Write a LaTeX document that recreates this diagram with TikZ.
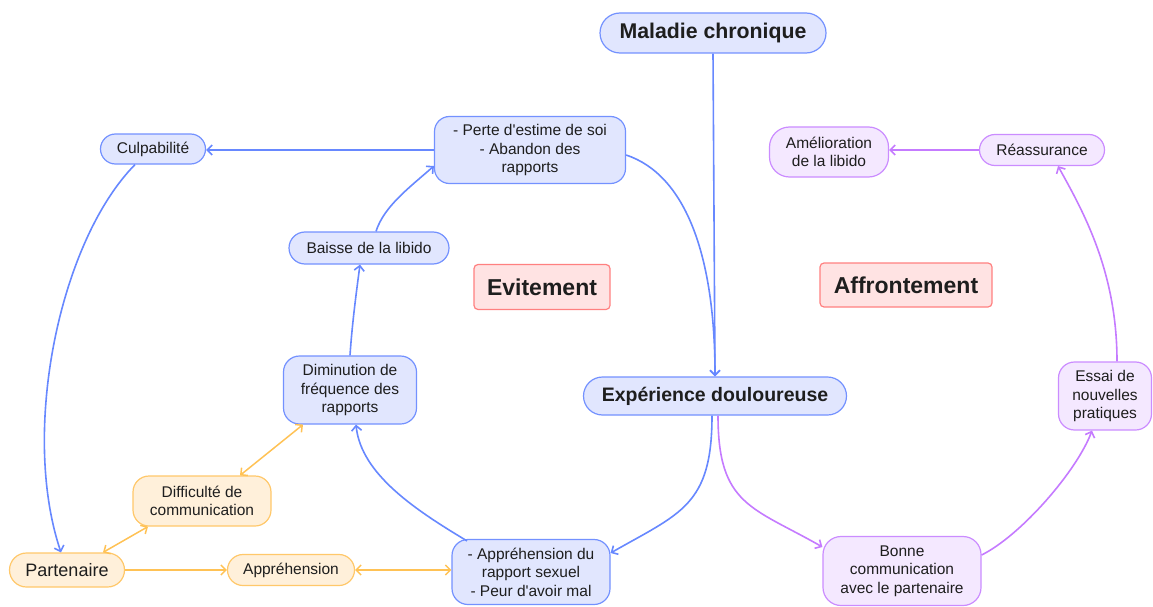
\documentclass[tikz,border=0pt]{standalone}
\usepackage{fontspec}
\setmainfont{Liberation Sans}
\usetikzlibrary{arrows.meta}
\definecolor{txt}{HTML}{1E1E1E}
\definecolor{bfill}{HTML}{E1E6FE}
\definecolor{bline}{HTML}{7391FF}
\definecolor{bedge}{HTML}{6788FF}
\definecolor{ofill}{HTML}{FFF0DA}
\definecolor{oline}{HTML}{FFC86A}
\definecolor{oedge}{HTML}{FFC255}
\definecolor{pfill}{HTML}{F4E8FF}
\definecolor{pline}{HTML}{CB8CFF}
\definecolor{pedge}{HTML}{C57BFF}
\definecolor{rfill}{HTML}{FFE3E3}
\definecolor{rline}{HTML}{FF8080}
\newcommand{\apos}{\textquotesingle}
\begin{document}
\begin{tikzpicture}[x=1pt,y=-1pt,
  base/.style={draw, align=center, inner sep=0pt, text=txt, line width=1.2pt,
    font=\fontsize{15.5}{18.5}\selectfont},
  bnode/.style={base, fill=bfill, draw=bline},
  onode/.style={base, fill=ofill, draw=oline},
  pnode/.style={base, fill=pfill, draw=pline},
  rnode/.style={base, fill=rfill, draw=rline, rounded corners=4pt,
    font=\bfseries\fontsize{23}{26}\selectfont},
  conn/.style={line width=1.6pt, -{Straight Barb[length=5pt,width=10pt]}},
  dconn/.style={line width=1.5pt, {Straight Barb[length=5pt,width=10pt]}-{Straight Barb[length=5pt,width=10pt]}},
]
\useasboundingbox (0,0) rectangle (1153,607);

% nodes
\node[bnode, minimum width=226pt, minimum height=40pt, rounded corners=20pt,
  font=\bfseries\fontsize{21.3}{24}\selectfont] (mal) at (713,33) {Maladie chronique};
\node[bnode, minimum width=191pt, minimum height=67pt, rounded corners=15pt] (perte) at (530,150)
  {- Perte d\apos estime de soi\\- Abandon des\\rapports};
\node[bnode, minimum width=105pt, minimum height=30pt, rounded corners=15pt] (culp) at (153,149) {Culpabilité};
\node[bnode, minimum width=160pt, minimum height=32pt, rounded corners=16pt] (baisse) at (369,248) {Baisse de la libido};
\node[rnode, minimum width=136pt, minimum height=45pt] (evit) at (542,287) {Evitement};
\node[bnode, minimum width=133pt, minimum height=68pt, rounded corners=16pt] (dimi) at (350,390)
  {Diminution de\\fréquence des\\rapports};
\node[onode, minimum width=138pt, minimum height=50pt, rounded corners=16pt] (diff) at (202,501)
  {Difficulté de\\communication};
\node[onode, minimum width=115pt, minimum height=34pt, rounded corners=17pt,
  font=\fontsize{18}{21}\selectfont] (part) at (67,570) {Partenaire};
\node[onode, minimum width=127pt, minimum height=31pt, rounded corners=15.5pt] (appr) at (291,570) {Appréhension};
\node[bnode, minimum width=158pt, minimum height=65pt, rounded corners=16pt] (appr2) at (531,572)
  {- Appréhension du\\rapport sexuel\\- Peur d\apos avoir mal};
\node[bnode, minimum width=263pt, minimum height=38pt, rounded corners=19pt,
  font=\bfseries\fontsize{19.5}{22}\selectfont] (exp) at (715,396) {Expérience douloureuse};
\node[rnode, minimum width=172pt, minimum height=44pt] (affr) at (906,285) {Affrontement};
\node[pnode, minimum width=119pt, minimum height=50pt, rounded corners=20pt] (amel) at (829,152)
  {Amélioration\\de la libido};
\node[pnode, minimum width=125pt, minimum height=31pt, rounded corners=15.5pt] (reas) at (1042,150) {Réassurance};
\node[pnode, minimum width=93pt, minimum height=68pt, rounded corners=16pt] (essai) at (1105,396)
  {Essai de\\nouvelles\\pratiques};
\node[pnode, minimum width=158pt, minimum height=69pt, rounded corners=18pt] (bonne) at (902,571)
  {Bonne\\communication\\avec le partenaire};

% blue connectors
\draw[conn, bedge] (mal.south) -- (exp.north);
\draw[conn, bedge] ([yshift=-5pt]perte.east) .. controls +(60,20) and +(0,-120) .. (exp.north);
\draw[conn, bedge] (perte.west) -- (perte.west -| culp.east);
\draw[conn, bedge] ([xshift=-18pt]culp.south) .. controls +(-75,76) and +(-41,-122) .. ([xshift=-6pt]part.north);
\draw[conn, bedge] ([xshift=7pt]baisse.north) .. controls +(8,-25) and +(-25,22) .. ([yshift=-16pt]perte.west);
\draw[conn, bedge] (dimi.north) .. controls +(2,-30) and +(-4,30) .. ([xshift=-9pt]baisse.south);
\draw[conn, bedge] ([xshift=-64pt,yshift=-2pt]appr2.north) .. controls +(-50,-30) and +(5,50) .. ([xshift=6pt]dimi.south);
\draw[conn, bedge] ([xshift=-3pt]exp.south) .. controls +(0,90) and +(70,-40) .. ([yshift=19pt]appr2.east);

% purple connectors
\draw[conn, pedge] ([xshift=3pt]exp.south) .. controls +(0,90) and +(-70,-40) .. ([yshift=24pt]bonne.west);
\draw[conn, pedge] ([yshift=16pt]bonne.east) .. controls +(40,-20) and +(-15,40) .. ([xshift=-13pt]essai.south);
\draw[conn, pedge] ([xshift=12pt]essai.north) .. controls +(0,-90) and +(25,45) .. ([xshift=16pt]reas.south);
\draw[conn, pedge] (reas.west) -- (reas.west -| amel.east);

% orange connectors
\draw[conn, oedge, line width=1.5pt] (part.east) -- (part.east -| appr.west);
\draw[dconn, oedge] (appr.east) -- (appr.east -| appr2.west);
\draw[dconn, oedge] ([xshift=36pt]part.north) -- ([xshift=-54pt]diff.south);
\draw[dconn, oedge] ([xshift=38pt]diff.north) -- ([xshift=-47pt]dimi.south);
\end{tikzpicture}
\end{document}
